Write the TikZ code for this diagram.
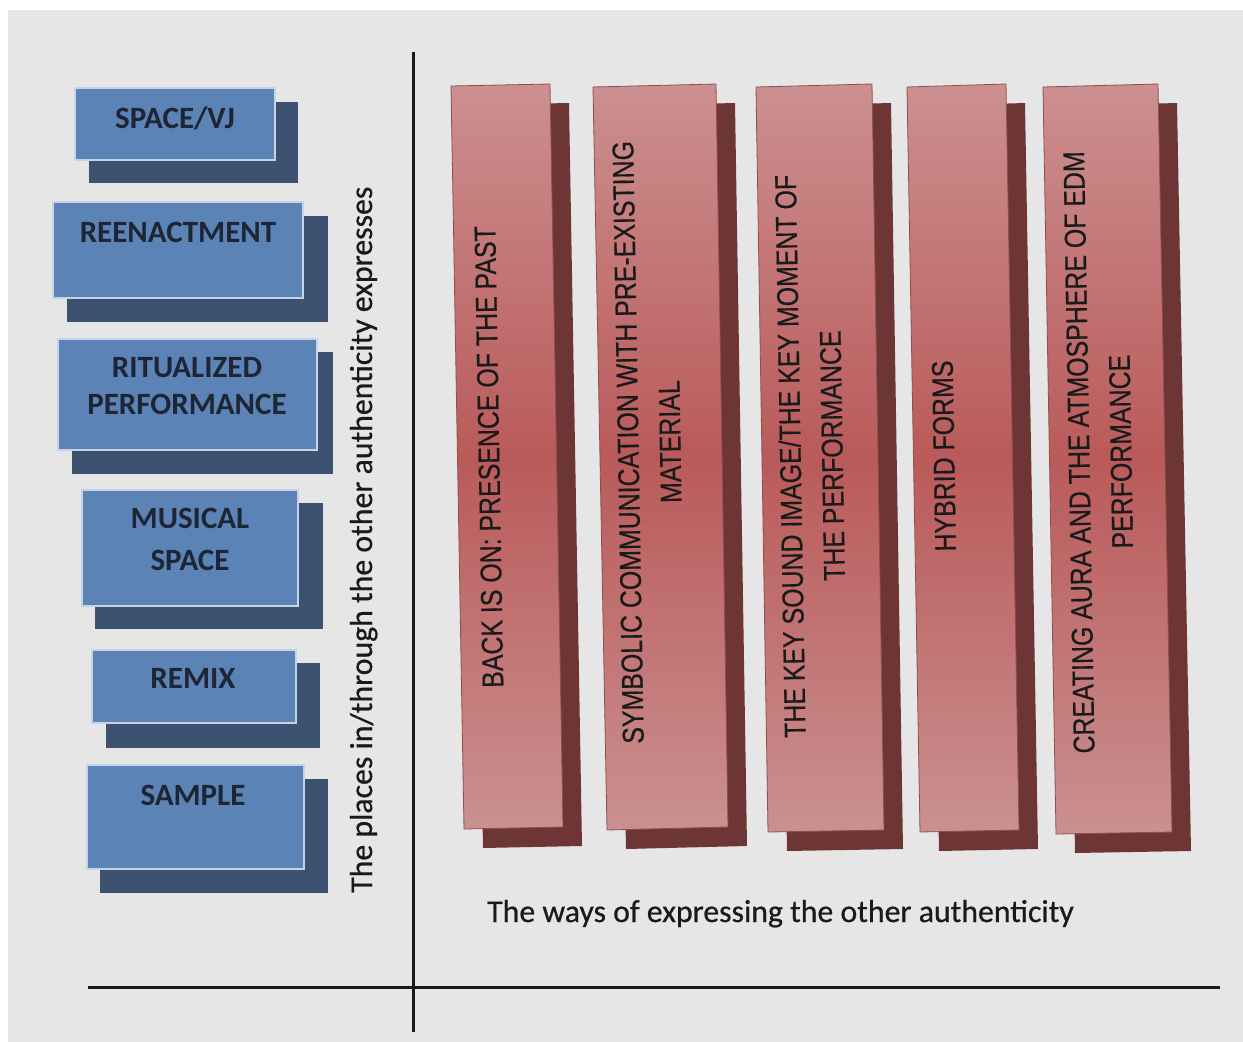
\documentclass[tikz,border=0pt]{standalone}
\usepackage{fontspec}
\usepackage{graphicx}
\setmainfont{Carlito}
\newfontfamily\barfont{Liberation Sans}[FakeBold=0.5]
\newfontfamily\axisfont{Carlito}[FakeBold=0.6]
\usetikzlibrary{calc}

\definecolor{pagegray}{HTML}{E6E6E6}
\definecolor{bluefill}{HTML}{5B83B5}
\definecolor{blueedge}{HTML}{C4D3E6}
\definecolor{blueshade}{HTML}{3D5270}
\definecolor{labelink}{HTML}{1E2636}
\definecolor{redtop}{HTML}{CC9090}
\definecolor{redmid}{HTML}{BA5A5A}
\definecolor{redbottom}{HTML}{CA9090}
\definecolor{redline}{HTML}{8E4E4E}
\definecolor{redshade}{HTML}{6E3535}
\definecolor{inkdark}{HTML}{1A1A1A}

% squeeze a line of bar text along its own direction
\newcommand\sqz[1]{\scalebox{0.83}[1]{#1}}

% blue box: front corners, then shadow corners
\newcommand\bluebox[8]{%
  \fill[blueshadow] (#5,#6) rectangle (#7,#8);
  \draw[bluefront] (#1,#2) rectangle (#3,#4);}

% red bar: four front corners (TL, TR, BR, BL); the shadow is offset
\newcommand\redbar[8]{%
  \begin{scope}[shift={(19,19)}]
    \fill[redshadow] (#1,#2) -- (#3,#4) -- (#5,#6) -- (#7,#8) -- cycle;
  \end{scope}
  \draw[redfront] (#1,#2) -- (#3,#4) -- (#5,#6) -- (#7,#8) -- cycle;}

\begin{document}
\begin{tikzpicture}[x=1pt,y=-1pt,
  bluefront/.style={fill=bluefill, draw=blueedge, line width=2.5pt},
  blueshadow/.style={fill=blueshade},
  redfront/.style={top color=redtop, bottom color=redbottom, middle color=redmid,
                   draw=redline, line width=0.8pt},
  redshadow/.style={fill=redshade},
  boxlabel/.style={font=\fontsize{31}{37}\selectfont\bfseries, text=labelink,
                   align=center, inner sep=0pt},
  barlabel/.style={font=\barfont\fontsize{30}{42}\selectfont, text=inkdark,
                   align=center, inner sep=0pt, rotate=91},
  axislabel/.style={font=\axisfont\fontsize{31.8}{37}\selectfont, text=inkdark, inner sep=0pt},
  axisline/.style={draw=black!90, line width=3pt}]

\useasboundingbox (0,0) rectangle (1243,1042);
\fill[white] (0,0) rectangle (1243,1042);
\fill[pagegray] (8,10) rectangle (1243,1042);

% ---- places (left column) ----
\bluebox{75}{88}{275}{160}{89}{102}{298}{183}
\node[boxlabel] (space) at (175,118) {SPACE/VJ};

\bluebox{53}{202}{303}{298}{67}{216}{328}{322}
\node[boxlabel] (reenact) at (178,232) {REENACTMENT};

\bluebox{58}{339}{317}{450}{72}{352}{333}{474}
\node[boxlabel] (ritual) at (187,386) {RITUALIZED\\PERFORMANCE};

\bluebox{82}{490}{298}{606}{95}{503}{323}{629}
\node[boxlabel, font=\fontsize{31}{42}\selectfont\bfseries] (musical) at (190,539) {MUSICAL\\SPACE};

\bluebox{92}{650}{296}{723}{106}{663}{320}{748}
\node[boxlabel] (remix) at (193,678) {REMIX};

\bluebox{87}{765}{304}{869}{100}{779}{328}{893}
\node[boxlabel] (sample) at (193,795) {SAMPLE};

% ---- ways (right bars) ----
\redbar{451}{86}{550}{84}{563}{827}{464}{829}
\node[barlabel] (past) at (489,457) {\sqz{BACK IS ON: PRESENCE OF THE PAST}};

\redbar{593}{87}{716}{84}{728}{827}{607}{830}
\node[barlabel] (symbolic) at (649,442)
  {\sqz{SYMBOLIC COMMUNICATION WITH PRE-EXISTING}\\\sqz{MATERIAL}};

\redbar{756}{87}{872}{84}{884}{830}{768}{832}
\node[barlabel] (keysound) at (811,456)
  {\sqz{THE KEY SOUND IMAGE/THE KEY MOMENT OF}\\\sqz{THE PERFORMANCE}};

\redbar{907}{87}{1006}{84}{1019}{830}{920}{832}
\node[barlabel] (hybrid) at (944,456) {\sqz{HYBRID FORMS}};

\redbar{1043}{87}{1158}{84}{1172}{832}{1056}{834}
\node[barlabel] (aura) at (1100,452)
  {\sqz{CREATING AURA AND THE ATMOSPHERE OF EDM}\\\sqz{PERFORMANCE}};

% ---- axes and their titles ----
\coordinate (vtop) at (413,52);
\coordinate (vbot) at (413,1032);
\coordinate (hleft) at (88,987);
\coordinate (hright) at (1220,987);
\draw[axisline] (vtop) -- (vbot);
\draw[axisline] (hleft) -- (hright);

\node[axislabel, anchor=base west] (ways) at (487,922)
  {The ways of expressing the other authenticity};
\node[axislabel, anchor=base west, rotate=90] (places) at (372,893)
  {The places in/through the other authenticity expresses};

\end{tikzpicture}
\end{document}
